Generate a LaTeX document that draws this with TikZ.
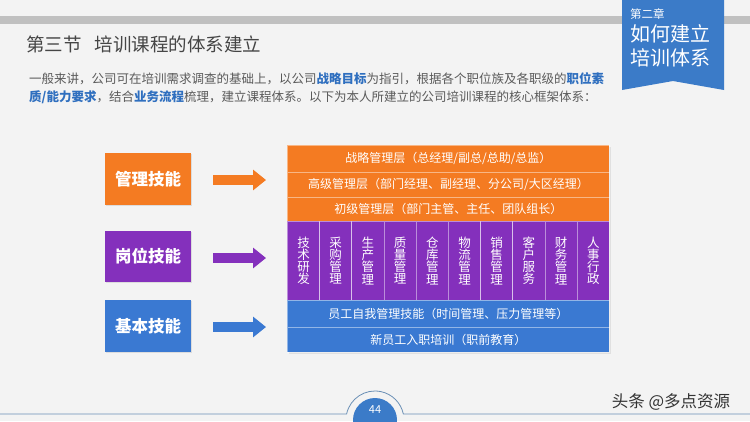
\documentclass[tikz,border=0pt]{standalone}
\usepackage{fontspec}
\setmainfont{Noto Sans CJK SC}
\usetikzlibrary{arrows.meta,calc,shadows}
\definecolor{bg}{HTML}{F3F3F3}
\definecolor{band}{HTML}{C0C0C0}
\definecolor{bannerblue}{HTML}{3B7BC8}
\definecolor{orng}{HTML}{F47B22}
\definecolor{purp}{HTML}{8430BC}
\definecolor{blu}{HTML}{3A79D2}
\definecolor{titlegray}{HTML}{454545}
\definecolor{textgray}{HTML}{5A5A5A}
\definecolor{hl}{HTML}{2F6FBF}
\definecolor{tabline}{HTML}{6A8FB5}
\newcommand{\hlb}[1]{{\bfseries\color{hl}#1}}
\tikzset{
  skillbox/.style={minimum width=86pt, minimum height=52pt, inner sep=0pt, text=white,
     font=\fontsize{16.5}{18}\selectfont\bfseries,
     drop shadow={shadow xshift=1pt, shadow yshift=-1pt, opacity=0.2}},
  layer/.style={anchor=north west, inner sep=0pt, text=white, minimum width=322pt,
     draw=white, draw opacity=0.45, line width=0.8pt,
     font=\fontsize{12}{14}\selectfont},
  colbox/.style={anchor=north west, inner sep=0pt, text=white, minimum width=32.2pt,
     minimum height=79pt, fill=purp, draw=white, draw opacity=0.45, line width=0.8pt,
     align=center, font=\fontsize{12.5}{12.1}\selectfont},
  fatarrow/.style={line width=10pt, -{Triangle[length=13pt,width=20pt]},
     shorten <=22pt, shorten >=21pt},
}
\begin{document}
\begin{tikzpicture}[x=1pt,y=-1pt]
\useasboundingbox (0,0) rectangle (750,421);
\fill[bg] (0,0) rectangle (750,421);
% top band
\fill[band] (0,16) rectangle (750,24);
% banner
\fill[bannerblue] (622,0) -- (724,0) -- (724,90) -- (673,81) -- (622,90) -- cycle;
\node[anchor=west, inner sep=0pt, text=white, font=\fontsize{11.5}{13}\selectfont] (chap) at (630,14) {第二章};
\node[anchor=west, inner sep=0pt, text=white, font=\fontsize{20}{22}\selectfont] (ban1) at (630,34) {如何建立};
\node[anchor=west, inner sep=0pt, text=white, font=\fontsize{20}{22}\selectfont] (ban2) at (630,58) {培训体系};
% title
\node[anchor=west, inner sep=0pt, text=titlegray, font=\fontsize{18.5}{20}\selectfont] (title) at (26,44) {第三节\hspace{0.7em}培训课程的体系建立};
% paragraph
\node[anchor=west, inner sep=0pt, text=textgray, font=\fontsize{12.5}{14}\selectfont] (para1) at (29,79)
  {一般来讲，公司可在培训需求调查的基础上，以公司\hlb{战略目标}为指引，根据各个职位族及各职级的\hlb{职位素}};
\node[anchor=west, inner sep=0pt, text=textgray, font=\fontsize{12.5}{14}\selectfont] (para2) at (29,97)
  {\hlb{质/能力要求}，结合\hlb{业务流程}梳理，建立课程体系。以下为本人所建立的公司培训课程的核心框架体系：};
% left boxes
\node[skillbox, fill=orng] (mgmt) at (148,179) {管理技能};
\node[skillbox, fill=purp, minimum height=51pt] (post) at (148,256.5) {岗位技能};
\node[skillbox, fill=blu] (basic) at (148,326) {基本技能};
% main block
\fill[black!12] (288.5,146.5) rectangle (610.5,353.5);
\node[layer, fill=orng, minimum height=27pt] (r1) at (287,145) {战略管理层（总经理/副总/总助/总监）};
\node[layer, fill=orng, minimum height=25pt] (r2) at (287,172) {高级管理层（部门经理、副经理、分公司/大区经理）};
\node[layer, fill=orng, minimum height=24pt] (r3) at (287,197) {初级管理层（部门主管、主任、团队组长）};
\foreach \t [count=\i from 0] in {{技\\术\\研\\发},{采\\购\\管\\理},{生\\产\\管\\理},{质\\量\\管\\理},{仓\\库\\管\\理},{物\\流\\管\\理},{销\\售\\管\\理},{客\\户\\服\\务},{财\\务\\管\\理},{人\\事\\行\\政}}
  \node[colbox] (c\i) at ({287+32.2*\i},221) {\t};
\node[layer, fill=blu, minimum height=27pt] (b1) at (287,300) {员工自我管理技能（时间管理、压力管理等）};
\node[layer, fill=blu, minimum height=25pt] (b2) at (287,327) {新员工入职培训（职前教育）};
% arrows
\draw[fatarrow, draw=orng] (mgmt.east |- 0,180) -- (r2.west |- 0,180);
\draw[fatarrow, draw=purp] (post.east |- 0,258) -- (c0.west |- 0,258);
\draw[fatarrow, draw=blu] (basic.east |- 0,327) -- (b2.west |- 0,327);
% bottom line and page tab
\fill[bannerblue] (375,420) circle (22pt);
\draw[tabline, line width=0.8pt] (0,414) -- (346.6,414) arc[start angle=168.06, end angle=11.94, radius=29pt] -- (750,414);
\node[text=white, inner sep=0pt, font=\fontsize{11}{12}\selectfont] (page) at (375,410) {44};
% watermark
\node[text=black!80, inner sep=0pt, font=\fontsize{16.5}{18}\selectfont] (wm) at (671,402) {头条 @多点资源};
\end{tikzpicture}
\end{document}
